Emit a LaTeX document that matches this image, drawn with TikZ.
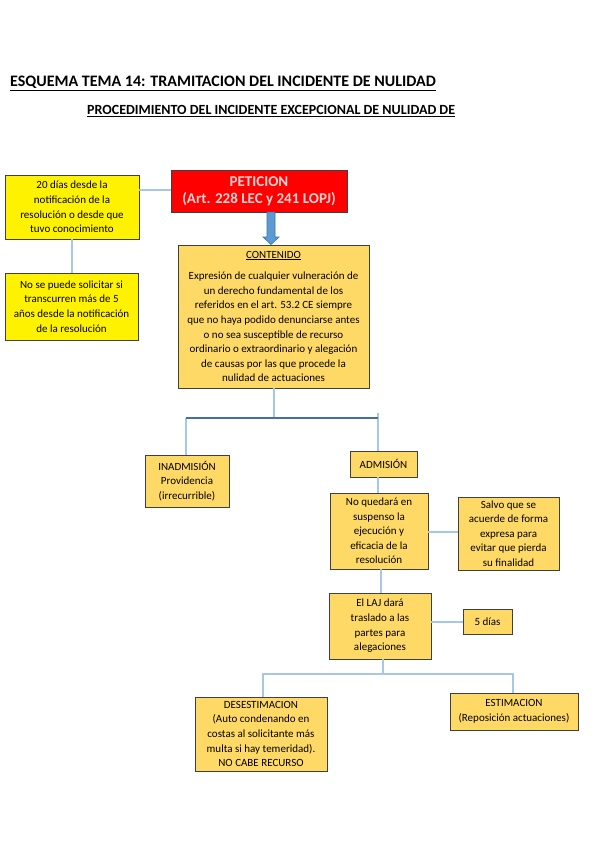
\documentclass[tikz,border=0pt]{standalone}
\usepackage{fontspec}
\setmainfont{Carlito}
\begin{document}
\begin{tikzpicture}[x=1pt,y=-1pt,
  box/.style={draw=black!75,line width=0.9pt,align=center,inner sep=1pt,
    font=\fontsize{11}{14.6}\selectfont},
  ybox/.style={box,fill=yellow},
  obox/.style={box,fill=orangebox},
  rbox/.style={box,fill=red,text=pinktext,font=\bfseries\fontsize{15}{18}\selectfont},
  conn/.style={draw=lightconn,line width=1.4pt},
  thick conn/.style={draw=darkconn,line width=2.6pt}]
\definecolor{orangebox}{HTML}{FFD966}
\definecolor{pinktext}{HTML}{F6D2D2}
\definecolor{lightconn}{HTML}{A7C7E7}
\definecolor{darkconn}{HTML}{41719C}
\definecolor{arrowfill}{HTML}{5B9BD5}
\useasboundingbox[fill=white] (0,0) rectangle (599,848);

\node[anchor=base west,inner sep=0,font=\bfseries\fontsize{16}{18}\selectfont] (title) at (10,87) {\underline{ESQUEMA TEMA 14: TRAMITACION DEL INCIDENTE DE NULIDAD}};
\node[anchor=base west,inner sep=0,font=\bfseries\fontsize{14}{16}\selectfont] (subtitle) at (87,115) {\underline{PROCEDIMIENTO DEL INCIDENTE EXCEPCIONAL DE NULIDAD DE}};

\node[ybox,minimum width=134,minimum height=64] (y1) at (72,207) {20 días desde la\\ notificación de la\\ resolución o desde que\\ tuvo conocimiento};
\node[ybox,minimum width=133,minimum height=67] (y2) at (71.5,306.5) {No se puede solicitar si\\ transcurren más de 5\\ años desde la notificación\\ de la resolución};
\node[rbox,minimum width=176,minimum height=42] (pet) at (259,191) {PETICION\\[-1pt] (Art. 228 LEC y 241 LOPJ)};
\node[obox,minimum width=191,minimum height=143] (cont) at (273.5,316.5) {\underline{CONTENIDO}\\[7pt] Expresión de cualquier vulneración de\\ un derecho fundamental de los\\ referidos en el art. 53.2 CE siempre\\ que no haya podido denunciarse antes\\ o no sea susceptible de recurso\\ ordinario o extraordinario y alegación\\ de causas por las que procede la\\ nulidad de actuaciones};
\node[obox,minimum width=84,minimum height=52] (inad) at (187,481) {INADMISIÓN\\ Providencia\\ (irrecurrible)};
\node[obox,minimum width=67,minimum height=26] (adm) at (383.5,464) {ADMISIÓN};
\node[obox,minimum width=98,minimum height=76] (noq) at (379,531) {No quedará en\\ suspenso la\\ ejecución y\\ eficacia de la\\ resolución};
\node[obox,minimum width=101,minimum height=73] (salvo) at (508.5,533.5) {Salvo que se\\ acuerde de forma\\ expresa para\\ evitar que pierda\\ su finalidad};
\node[obox,minimum width=102,minimum height=66] (laj) at (380,626) {El LAJ dará\\ traslado a las\\ partes para\\ alegaciones};
\node[obox,minimum width=49,minimum height=25] (cinco) at (487.5,621.5) {5 días};
\node[obox,minimum width=132,minimum height=74] (deses) at (261,734) {DESESTIMACION\\ (Auto condenando en\\ costas al solicitante más\\ multa si hay temeridad).\\ NO CABE RECURSO};
\node[obox,minimum width=128,minimum height=37] (estim) at (514,711.5) {ESTIMACION\\ (Reposición actuaciones)};

% left connectors
\draw[conn] (y1.south) -- (y1.south |- y2.north);
\draw[conn] (y1.east |- 0,190) -- (pet.west |- 0,190);

% big arrow
\coordinate (ar) at (271,212);
\filldraw[fill=arrowfill,draw=darkconn,line width=0.6pt]
  ([xshift=-4]ar) -- ([xshift=-4,yshift=-25]ar) -- ([xshift=-8,yshift=-25]ar)
  -- (ar |- cont.north) -- ([xshift=8,yshift=-25]ar) -- ([xshift=4,yshift=-25]ar)
  -- ([xshift=4]ar) -- cycle;

% branch from contenido
\coordinate (hl) at (186,418);
\coordinate (hr) at (378,418);
\draw[conn] (cont.south -| 274,0) -- (274,418);
\draw[conn] (hl) -- (hl |- inad.north);
\draw[conn] (378,413) -- (378,0 |- adm.north);
\draw[thick conn] (hl) -- (hr);

\draw[conn] (adm.south -| 378,0) -- (378,0 |- noq.north);
\draw[conn] (noq.east |- 0,532) -- (salvo.west |- 0,532);
\draw[conn] (noq.south -| 381,0) -- (381,0 |- laj.north);
\draw[conn] (laj.east |- 0,622) -- (cinco.west |- 0,622);

% final branch
\coordinate (bl) at (263,674);
\coordinate (br) at (513,674);
\draw[conn] (laj.south -| 383,0) -- (383,674);
\draw[conn] (bl |- deses.north) -- (bl) -- (br) -- (br |- estim.north);
\end{tikzpicture}
\end{document}
